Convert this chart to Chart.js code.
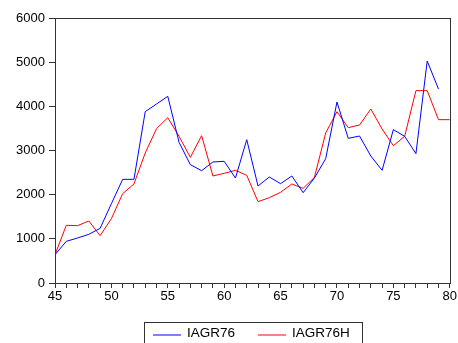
<!DOCTYPE html>
<html>
<head>
<meta charset="utf-8">
<script src="https://cdn.jsdelivr.net/npm/chart.js@4/dist/chart.umd.min.js"></script>
<style>
  html, body { margin: 0; padding: 0; background: #fff; overflow: hidden; }
  #wrap { position: relative; width: 458px; height: 343px; }
  #legend { position: absolute; left: 144px; top: 322px; width: 219px; height: 26px;
            border: 1px solid #333; box-sizing: border-box; font-family: "Liberation Sans", Arial, sans-serif;
            font-size: 13.5px; color: #000; }
  .item { position: absolute; top: 2px; height: 18px; width: 100px; }
  .sw { position: absolute; top: 9px; left: 0; width: 28px; height: 2px; }
  .lab { position: absolute; left: 34px; top: 0; line-height: 16px; white-space: nowrap; }
</style>
</head>
<body>
<div id="wrap">
  <canvas id="c" width="458" height="343"></canvas>
  <div id="legend"></div>
</div>
<script>
const years = [45,46,47,48,49,50,51,52,53,54,55,56,57,58,59,60,61,62,63,64,65,66,67,68,69,70,71,72,73,74,75,76,77,78,79,80];
const iagr76 = [640,943,1019,1102,1238,1796,2347,2347,3879,4053,4226,3185,2679,2543,2740,2755,2377,3245,2196,2400,2249,2423,2045,2377,2815,4098,3275,3328,2875,2551,3472,3321,2928,5026,4392,null];
const iagr76h = [640,1306,1298,1404,1072,1457,2023,2242,2943,3494,3743,3321,2845,3336,2423,2483,2551,2438,1842,1932,2053,2242,2143,2392,3396,3879,3517,3577,3940,3487,3109,3321,4355,4355,3698,3698];
const seriesNames = ["IAGR76", "IAGR76H"];
const seriesColors = ["#0000FF", "#FF0000"];
const legendSwatchColors = ["#8080FF", "#FF8080"];
const yTicks = [0,1000,2000,3000,4000,5000,6000];

const toPts = arr => years.map((x,i) => ({x, y: arr[i]}));

const frame = {
  id: 'frame',
  afterDraw(chart) {
    const a = chart.chartArea, ctx = chart.ctx;
    ctx.save();
    ctx.strokeStyle = '#333';
    ctx.lineWidth = 1;
    ctx.strokeRect(Math.round(a.left)+0.5, Math.round(a.top)+0.5, Math.round(a.right-a.left), Math.round(a.bottom-a.top));
    ctx.restore();
  }
};

const font = { family: '"Liberation Sans", Arial, sans-serif', size: 13 };

new Chart(document.getElementById('c'), {
  type: 'line',
  data: {
    datasets: [
      { label: seriesNames[0], data: toPts(iagr76), borderColor: seriesColors[0], borderWidth: 1, pointRadius: 0, tension: 0, spanGaps: false },
      { label: seriesNames[1], data: toPts(iagr76h), borderColor: seriesColors[1], borderWidth: 1, pointRadius: 0, tension: 0 }
    ]
  },
  options: {
    responsive: false,
    animation: false,
    layout: { padding: { left: 0, right: 5, top: 18, bottom: 0 } },
    plugins: { legend: { display: false }, tooltip: { enabled: false } },
    scales: {
      x: {
        type: 'linear', min: 45, max: 80,
        afterFit(s) { s.height = 60; },
        ticks: { stepSize: 1, autoSkip: false, maxRotation: 0, color: '#000', font, padding: 1,
                 callback: v => (v % 5 === 0 ? String(v) : '') },
        grid: { drawOnChartArea: false, drawTicks: true, tickLength: 5, tickColor: '#333' },
        border: { color: '#333', width: 1 }
      },
      y: {
        min: 0, max: 6000,
        afterFit(s) { s.width = 55; },
        afterBuildTicks(s) { s.ticks = yTicks.map(v => ({ value: v })); },
        ticks: { color: '#000', font, padding: 4, callback: v => String(v) },
        grid: { drawOnChartArea: false, drawTicks: true, tickLength: 6, tickColor: '#333' },
        border: { color: '#333', width: 1 }
      }
    }
  },
  plugins: [frame]
});

const leg = document.getElementById('legend');
const offs = [8, 113];
seriesNames.forEach((n, i) => {
  const d = document.createElement('div');
  d.className = 'item';
  d.style.left = offs[i] + 'px';
  const sw = document.createElement('div');
  sw.className = 'sw';
  sw.style.background = legendSwatchColors[i];
  const lab = document.createElement('div');
  lab.className = 'lab';
  lab.textContent = n;
  d.appendChild(sw);
  d.appendChild(lab);
  leg.appendChild(d);
});
</script>
</body>
</html>
